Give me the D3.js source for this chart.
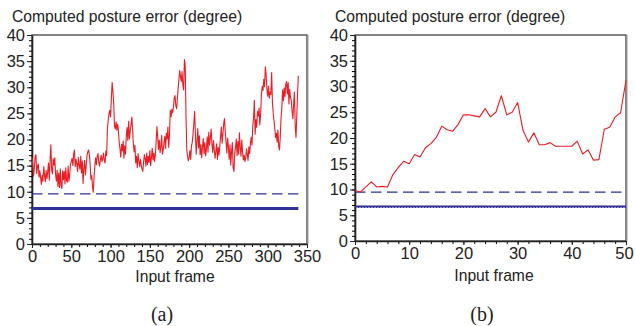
<!DOCTYPE html>
<html>
<head>
<meta charset="utf-8">
<script src="https://cdn.jsdelivr.net/npm/d3@7"></script>
<style>
  body { margin: 0; background: #fff; }
  svg text { font-family: "Liberation Sans", Arial, Helvetica, sans-serif; fill: #222; }
  .caption { font-family: "Liberation Serif", "Times New Roman", serif; }
</style>
</head>
<body>
<svg id="chart" width="635" height="326"></svg>
<script>
// computed posture error per input frame, panel (a)
const errorA = [
  16.5, 15.2, 13.0, 14.5, 16.8, 17.1, 13.5, 14.9, 15.3, 12.8,
  14.0, 12.6, 11.4, 13.2, 12.0, 14.8, 13.1, 11.9, 14.1, 12.5,
  13.8, 15.5, 12.2, 16.0, 19.0, 14.2, 13.4, 16.3, 15.1, 16.5,
  13.3, 12.0, 14.1, 11.0, 13.6, 10.8, 14.4, 11.2, 10.6, 14.0,
  12.3, 13.9, 11.5, 14.6, 12.1, 11.8, 14.9, 12.0, 13.2, 15.2,
  15.8, 16.4, 15.0, 17.2, 18.0, 14.8, 16.2, 15.4, 13.9, 16.6,
  15.1, 14.3, 16.8, 13.6, 15.9, 11.6, 14.5, 16.0, 13.2, 15.0,
  16.9, 17.6, 18.0, 17.1, 15.3, 12.4, 13.1, 11.0, 9.9, 12.8,
  14.9, 16.5, 15.2, 16.8, 17.3, 15.6, 14.9, 16.1, 17.0, 15.8,
  16.3, 17.4, 16.0, 15.5, 17.8, 16.9, 22.1, 23.7, 25.0, 25.6,
  24.3, 27.8, 30.9, 29.2, 26.8, 22.6, 22.0, 23.4, 21.8, 22.9,
  21.5, 19.4, 18.2, 16.6, 19.1, 17.8, 19.7, 16.4, 18.8, 17.2,
  20.6, 22.3, 19.8, 23.5, 20.1, 21.7, 22.8, 24.3, 22.0, 19.2,
  17.6, 18.9, 15.5, 16.8, 14.6, 17.3, 15.9, 14.8, 16.2, 15.1,
  14.4, 13.9, 15.6, 17.1, 16.3, 14.9, 17.4, 15.2, 16.8, 15.6,
  17.9, 15.0, 16.5, 18.3, 16.1, 17.4, 15.8, 17.0, 19.5, 22.5,
  20.4, 18.1, 19.9, 17.5, 18.6, 20.8, 17.2, 18.0, 19.4, 20.6,
  18.3, 21.2, 20.1, 22.4, 18.5, 21.0, 25.6, 24.3, 25.8, 25.1,
  26.2, 27.9, 28.4, 26.5, 25.9, 27.7, 29.8, 31.5, 33.2, 32.0,
  31.1, 33.0, 30.4, 29.5, 35.3, 34.0, 24.6, 18.0, 16.8, 15.9,
  16.6, 17.9, 16.2, 18.8, 19.5, 21.3, 23.0, 25.4, 20.9, 17.2,
  19.6, 22.1, 18.4, 20.7, 17.1, 19.0, 16.5, 18.6, 20.2, 17.3,
  19.4, 16.9, 18.2, 20.5, 17.6, 21.4, 18.9, 20.3, 22.0, 19.1,
  17.5, 19.8, 18.1, 16.4, 17.7, 19.2, 16.2, 18.5, 17.0, 18.7,
  20.5, 22.4, 19.3, 21.0, 23.1, 24.0, 21.2, 19.5, 17.4, 20.3,
  18.6, 16.2, 19.0, 15.1, 17.8, 19.4, 14.6, 13.9, 17.3, 18.5,
  20.1, 16.9, 19.6, 17.2, 21.3, 18.4, 16.8, 19.9, 17.6, 16.1,
  17.0, 15.8, 16.4, 18.2, 17.1, 16.0, 18.6, 17.3, 19.2, 20.4,
  18.9, 22.6, 24.1, 27.5, 21.0, 23.8, 22.3, 25.4, 24.5, 26.0,
  22.8, 24.9, 28.7, 30.2, 29.4, 31.5, 30.1, 33.9, 32.4, 29.6,
  28.3, 30.2, 27.9, 29.1, 28.6, 32.8, 27.2, 25.0, 23.6, 22.1,
  20.4, 21.2, 19.5, 21.8, 18.7, 18.0, 20.6, 24.2, 26.1, 29.5,
  27.4, 29.9, 28.2, 30.5, 31.1, 28.7, 30.9, 26.8, 29.6, 28.0,
  27.5, 25.4, 24.0, 26.8, 29.1, 22.6, 20.4, 24.5, 28.8, 32.2
];

// panel (b), frames 0..50
const errorB = [
  9.8, 9.5, 10.5, 11.5, 10.5, 10.6, 10.5, 12.9, 14.3, 15.5,
  15.0, 16.8, 16.3, 18.1, 18.9, 20.1, 22.3, 21.6, 21.3, 22.6,
  24.5, 24.5, 24.3, 24.1, 25.7, 24.1, 25.0, 28.2, 24.5, 25.0,
  26.9, 21.5, 19.2, 21.0, 18.7, 18.7, 19.1, 18.4, 18.4, 18.4,
  18.4, 19.4, 16.9, 17.7, 15.7, 15.8, 21.7, 22.1, 24.1, 24.9,
  31.2
];

// reference levels (dashed, solid, dotted) for each panel
const dashedLevel = [9.6, 9.5];
const solidLevel = [6.8, 6.7];
const dottedLevel = [null, 6.5];

const yTicks = [0, 5, 10, 15, 20, 25, 30, 35, 40];
const xTicksA = [0, 50, 100, 150, 200, 250, 300, 350];
const xTicksB = [0, 10, 20, 30, 40, 50];

const titleText = 'Computed posture error (degree)';
const xLabelText = 'Input frame';
const captions = ['(a)', '(b)'];

const svg = d3.select('#chart');
const fontSize = '15.7px';
const tickFont = '16.5px';

function drawPanel(cfg) {
    const g = svg.append('g');

    const x = d3.scaleLinear().domain([0, cfg.xMax]).range([cfg.left, cfg.right]);
    const y = d3.scaleLinear().domain([0, 40]).range([cfg.bottom, cfg.top]);

    // box round the plot (right edge greyer, as in the scan)
    g.append('rect')
        .attr('x', cfg.left)
        .attr('y', cfg.top)
        .attr('width', cfg.right - cfg.left)
        .attr('height', cfg.bottom - cfg.top)
        .attr('fill', 'none')
        .attr('stroke', '#333')
        .attr('stroke-width', 1.2);
    g.append('line')
        .attr('x1', cfg.right + 1).attr('x2', cfg.right + 1)
        .attr('y1', cfg.top).attr('y2', cfg.bottom)
        .attr('stroke', '#999')
        .attr('stroke-width', 1);

    // minor ticks
    g.append('g')
        .attr('transform', 'translate(' + cfg.left + ',0)')
        .call(d3.axisLeft(y).tickValues(d3.range(0, 41, 1)).tickSize(3).tickFormat(''))
        .call(s => s.select('.domain').remove());
    g.append('g')
        .attr('transform', 'translate(0,' + cfg.bottom + ')')
        .call(d3.axisBottom(x).tickValues(d3.range(0, cfg.xMax + 0.1, cfg.xMinor)).tickSize(3).tickFormat(''))
        .call(s => s.select('.domain').remove());

    // major axes
    const yAxis = g.append('g')
        .attr('transform', 'translate(' + cfg.left + ',0)')
        .call(d3.axisLeft(y).tickValues(yTicks).tickSize(5).tickPadding(2).tickSizeOuter(0));
    const xAxis = g.append('g')
        .attr('transform', 'translate(0,' + cfg.bottom + ')')
        .call(d3.axisBottom(x).tickValues(cfg.xTicks).tickSize(4).tickPadding(cfg.xPad).tickSizeOuter(0));

    [yAxis, xAxis].forEach(a => {
        a.selectAll('text').style('font-size', tickFont).style('font-family', '"Liberation Sans", Arial, sans-serif').attr('fill', '#222');
        a.select('.domain').attr('stroke', '#222').attr('stroke-width', 1.6);
        a.selectAll('.tick line').attr('stroke', '#222');
    });
    // keep the last x label inside the page
    xAxis.selectAll('.tick:last-of-type text').attr('dx', cfg.lastLabelShift);

    // reference lines
    const flat = (v) => [[0, v], [cfg.lineEnd, v]];
    const line = d3.line().x(d => x(d[0])).y(d => y(d[1]));

    g.append('path')
        .attr('d', line(flat(cfg.dashed)))
        .attr('fill', 'none')
        .attr('stroke', '#2e3192')
        .attr('stroke-width', 1.1)
        .attr('stroke-dasharray', '10.5,5.5');

    if (cfg.dotted !== null) {
        g.append('path')
            .attr('d', line(flat(cfg.dotted)))
            .attr('fill', 'none')
            .attr('stroke', '#2e3192')
            .attr('stroke-width', 1)
            .attr('stroke-dasharray', '1,2');
    }

    g.append('path')
        .attr('d', line(flat(cfg.solid)))
        .attr('fill', 'none')
        .attr('stroke', '#2e3192')
        .attr('stroke-width', cfg.solidWidth);

    // error curve
    g.append('path')
        .datum(cfg.data)
        .attr('fill', 'none')
        .attr('stroke', '#ec1c24')
        .attr('stroke-width', 1.1)
        .attr('stroke-linejoin', 'round')
        .attr('d', d3.line().x((d, i) => x(i)).y(d => y(d)));

    // texts
    g.append('text')
        .attr('x', cfg.titleX)
        .attr('y', 22)
        .style('font-size', fontSize)
        .text(titleText);

    g.append('text')
        .attr('x', cfg.xLabelX)
        .attr('y', cfg.xLabelY)
        .attr('text-anchor', 'middle')
        .style('font-size', fontSize)
        .text(xLabelText);

    g.append('text')
        .attr('class', 'caption')
        .attr('x', cfg.captionX)
        .attr('y', 321)
        .attr('text-anchor', 'middle')
        .style('font-size', '20px')
        .text(cfg.caption);
}

drawPanel({
    data: errorA, xMax: 350, xTicks: xTicksA, xMinor: 10,
    left: 32, right: 307, top: 35, bottom: 244, xPad: 2, lastLabelShift: 0,
    lineEnd: errorA.length - 1,
    dashed: dashedLevel[0], solid: solidLevel[0], dotted: dottedLevel[0], solidWidth: 3,
    titleX: 12, xLabelX: 175, xLabelY: 282, captionX: 162, caption: captions[0]
});

drawPanel({
    data: errorB, xMax: 50, xTicks: xTicksB, xMinor: 2,
    left: 355, right: 626, top: 35, bottom: 241, xPad: 2, lastLabelShift: -2,
    lineEnd: errorB.length - 1,
    dashed: dashedLevel[1], solid: solidLevel[1], dotted: dottedLevel[1], solidWidth: 2,
    titleX: 335, xLabelX: 494, xLabelY: 281, captionX: 482, caption: captions[1]
});
</script>
</body>
</html>
